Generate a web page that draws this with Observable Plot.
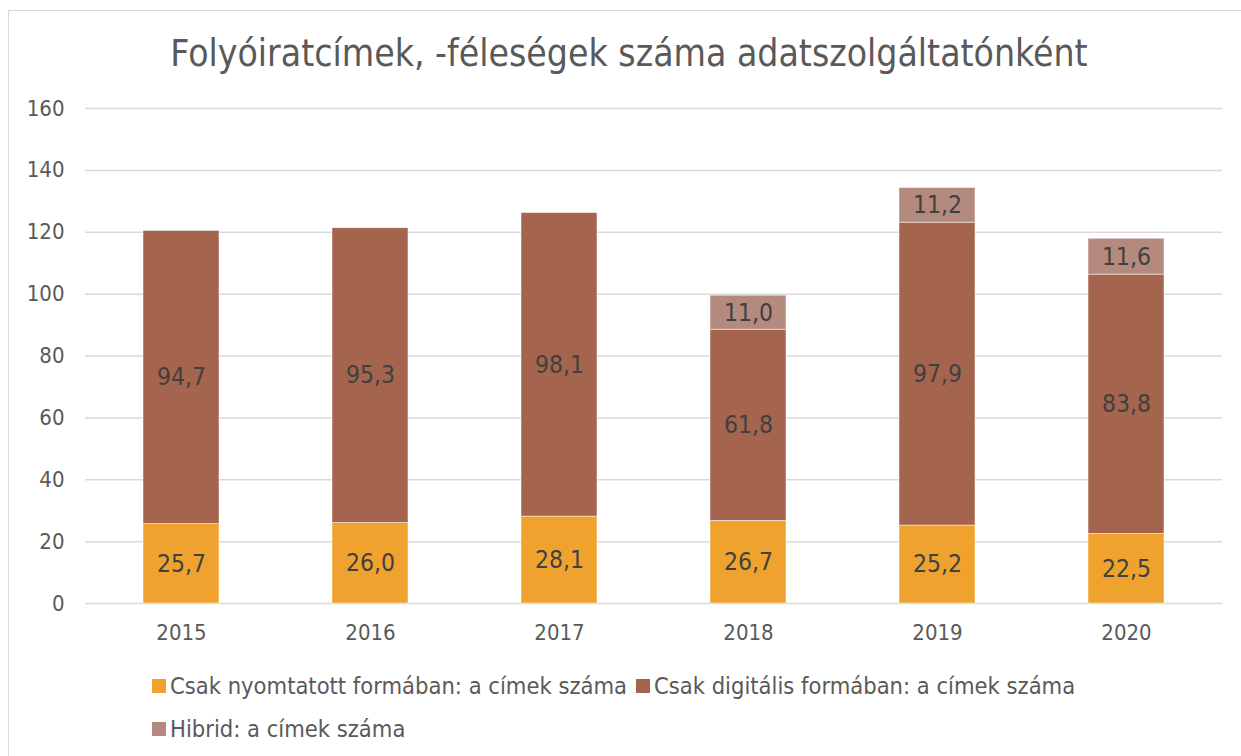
<!DOCTYPE html>
<html>
<head>
<meta charset="utf-8">
<script src="https://cdn.jsdelivr.net/npm/d3@7"></script>
<script src="https://cdn.jsdelivr.net/npm/@observablehq/plot@0.6"></script>
<style>
  html, body { margin: 0; padding: 0; background: #fff; width: 1241px; height: 756px; overflow: hidden; }
  body { position: relative; font-family: "DejaVu Sans Condensed", "DejaVu Sans", sans-serif; }
  #frame { position: absolute; left: 8px; top: 10px; width: 1250px; height: 760px; border: 1.5px solid #d9d9d9; box-sizing: border-box; }
  #title { position: absolute; left: 0; width: 1258px; top: 32px; text-align: center; font-size: 37px; color: #595959; }
  #chart { position: absolute; left: 0; top: 90px; }
  .leg { position: absolute; font-size: 23.5px; color: #595959; display: flex; align-items: center; white-space: nowrap; }
  .sw { display: inline-block; width: 14px; height: 14px; margin-right: 4px; }
</style>
</head>
<body>
<div id="frame"></div>
<div id="title">Folyóiratcímek, -féleségek száma adatszolgáltatónként</div>
<div id="chart"></div>
<div class="leg" style="left:152px; top:672px;"><span class="sw" style="background:#EFA22E"></span>Csak nyomtatott formában: a címek száma</div>
<div class="leg" style="left:636px; top:672px;"><span class="sw" style="background:#A5644D"></span>Csak digitális formában: a címek száma</div>
<div class="leg" style="left:152px; top:715px;"><span class="sw" style="background:#B58A7E"></span>Hibrid: a címek száma</div>
<script>
const years = ["2015", "2016", "2017", "2018", "2019", "2020"];
const seriesNames = ["Csak nyomtatott formában: a címek száma", "Csak digitális formában: a címek száma", "Hibrid: a címek száma"];
const printed = [25.7, 26.0, 28.1, 26.7, 25.2, 22.5];
const digital = [94.7, 95.3, 98.1, 61.8, 97.9, 83.8];
const hybrid = [0, 0, 0, 11.0, 11.2, 11.6];
const yTicks = [0, 20, 40, 60, 80, 100, 120, 140, 160];
const colors = ["#EFA22E", "#A5644D", "#B58A7E"];

const allSeries = [printed, digital, hybrid];
const data = [];
years.forEach((y, i) => {
  allSeries.forEach((arr, s) => {
    if (arr[i] > 0) data.push({ year: y, series: seriesNames[s], value: arr[i], order: s });
  });
});

const fmt = v => v.toFixed(1).replace(".", ",");

const chart = Plot.plot({
  width: 1241,
  height: 560,
  marginLeft: 85,
  marginRight: 19,
  marginTop: 18,
  marginBottom: 47,
  style: { fontFamily: "'DejaVu Sans Condensed', 'DejaVu Sans', sans-serif", background: "transparent" },
  x: { domain: years, paddingInner: 0.6, paddingOuter: 0.3, label: null, tickSize: 0, tickPadding: 21 },
  y: { domain: [0, 160], ticks: yTicks, label: null, tickSize: 0, tickPadding: 21 },
  color: { domain: seriesNames, range: colors },
  marks: [
    Plot.ruleY(yTicks, { stroke: "#d9d9d9", strokeWidth: 1.5 }),
    Plot.barY(data, Plot.stackY({ x: "year", y: "value", fill: "series", order: "order", stroke: "white", strokeWidth: 0.8, strokeOpacity: 0.6 })),
    Plot.text(data, Plot.stackY({ x: "year", y: "value", order: "order", text: d => fmt(d.value), fill: "#404040", fontSize: 24.5 })),
    Plot.axisY({ ticks: yTicks, tickSize: 0, tickPadding: 21, fontSize: 22, color: "#595959" }),
    Plot.axisX({ tickSize: 0, tickPadding: 21, fontSize: 22, color: "#595959" })
  ]
});
document.getElementById("chart").appendChild(chart);
</script>
</body>
</html>
